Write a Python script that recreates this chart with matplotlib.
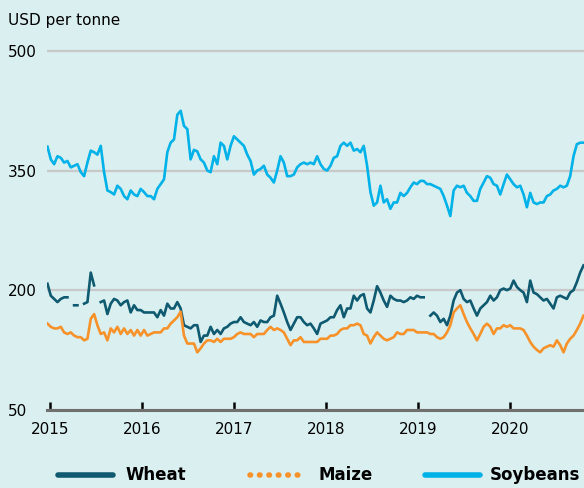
"""Wheat, maize and soybean prices, USD per tonne, 2015-2020."""
import numpy as np
import pandas as pd
import matplotlib
matplotlib.use("Agg")
import matplotlib.pyplot as plt
import matplotlib.dates as mdates
from matplotlib.lines import Line2D

nan = np.nan

# roughly fortnightly readings, USD per tonne
wheat = [
    208, 193, 189, 185, 189, 191, 191, nan, 181, 181, nan, 183, 185, 222, 206, nan, 185, 187, 170, 183, 189, 187, 181, 185, 187,
    172, 181, 175, 175, 172, 172, 172, 172, 166, 175, 168, 183, 177, 177, 185, 177, 156, 154, 152, 156, 156, 135, 143, 143, 154, 145, 150,
    145, 152, 154, 158, 160, 160, 166, 160, 158, 156, 160, 154, 162, 160, 160, 166, 168, 193, 183, 172, 160, 150, 158, 166, 166, 160, 156,
    158, 152, 145, 158, 160, 162, 166, 166, 175, 181, 166, 177, 177, 193, 187, 193, 195, 177, 172, 187, 205, 197, 187, 179, 193, 189, 187,
    187, 185, 187, 191, 189, 193, 191, 191, nan, 168, 172, 168, 160, 164, 156, 168, 187, 197, 200, 189, 185, 187, 177, 168, 177, 181, 185,
    193, 187, 191, 200, 202, 200, 202, 212, 204, 200, 197, 185, 212, 197, 195, 191, 187, 189, 183, 177, 191, 193, 191, 189, 197, 200, 210, 222, 231,
]
maize = [
    158, 154, 152, 152, 154, 147, 145, 147, 143, 141, 141, 137, 139, 164, 170, 156, 145, 147, 137, 152, 147, 154, 145, 152, 145,
    150, 143, 150, 143, 150, 143, 145, 147, 147, 147, 152, 152, 158, 162, 166, 173, 143, 133, 133, 133, 122, 127, 133, 137, 137, 135, 139,
    135, 139, 139, 139, 141, 145, 147, 145, 145, 145, 141, 145, 145, 145, 150, 154, 150, 152, 150, 147, 139, 131, 137, 137, 141, 135, 135,
    135, 135, 135, 139, 139, 139, 143, 143, 145, 150, 152, 152, 156, 156, 158, 156, 145, 143, 133, 141, 147, 143, 139, 137, 139, 141, 147,
    145, 145, 150, 150, 150, 147, 147, 147, 147, 145, 145, 141, 139, 141, 147, 156, 172, 177, 181, 170, 160, 152, 145, 137, 145, 154, 158,
    154, 145, 152, 152, 156, 154, 156, 152, 152, 152, 150, 143, 135, 129, 125, 122, 127, 129, 131, 129, 137, 131, 122, 133, 139, 143, 150, 158, 168,
]
soybeans = [
    380, 364, 358, 368, 366, 360, 362, 354, 356, 358, 348, 343, 360, 375, 373, 370, 381, 348, 325, 323, 320, 331, 327, 318, 314,
    325, 320, 318, 327, 323, 318, 318, 314, 327, 333, 339, 373, 385, 389, 420, 425, 406, 402, 364, 376, 374, 364, 360, 350, 348, 368, 358,
    385, 381, 364, 381, 393, 389, 385, 381, 370, 362, 345, 350, 352, 356, 345, 341, 335, 350, 368, 360, 343, 343, 345, 354, 358, 360, 358,
    360, 358, 368, 358, 352, 350, 356, 366, 368, 381, 385, 381, 385, 375, 377, 373, 381, 356, 323, 306, 310, 331, 310, 314, 302, 310, 310,
    322, 318, 322, 329, 335, 333, 337, 337, 333, 333, 331, 329, 327, 318, 306, 293, 325, 331, 329, 331, 322, 318, 312, 312, 327, 335, 343,
    341, 333, 331, 320, 333, 345, 339, 333, 329, 331, 320, 304, 322, 310, 308, 310, 310, 318, 320, 325, 327, 331, 329, 331, 343, 368, 383, 385, 385,
]
dates = pd.date_range("2014-12-20", "2020-10-19", periods=len(wheat))

series_names = ["Wheat", "Maize", "Soybeans"]
colors = ["#0f5a70", "#f7922a", "#00b2e8"]
y_ticks = [50, 200, 350, 500]

bg = "#d9eff0"
fig = plt.figure(figsize=(5.84, 4.88), dpi=100, facecolor=bg)
ax = fig.add_axes([0.080, 0.1604, 0.920, 0.7433], facecolor=bg)

for vals, col in zip([wheat, maize, soybeans], colors):
    ax.plot(dates, vals, color=col, lw=1.9, solid_joinstyle="round")

ax.set_ylim(50, 505)
ax.set_xlim(pd.Timestamp("2014-12-17"), pd.Timestamp("2020-10-21"))
ax.set_yticks(y_ticks)
ax.set_yticklabels([str(t) for t in y_ticks])
ax.yaxis.grid(True, color="#c9c9c9", lw=1.6)
ax.set_axisbelow(True)
ax.tick_params(axis="y", length=0, pad=28, labelsize=11)
for lab in ax.get_yticklabels():
    lab.set_horizontalalignment("left")

ax.xaxis.set_major_locator(mdates.YearLocator())
ax.xaxis.set_major_formatter(mdates.DateFormatter("%Y"))
ax.tick_params(axis="x", direction="in", length=6, width=1.8, color="black",
               pad=9, labelsize=11)

for s in ["top", "right", "left"]:
    ax.spines[s].set_visible(False)
ax.spines["bottom"].set_color("#707070")
ax.spines["bottom"].set_linewidth(2.2)

fig.text(8 / 584, 1 - 20 / 488, "USD per tonne", fontsize=11, va="center", ha="left")

# legend along the bottom
handles_x = [(58, 113), (250, 300), (425, 480)]
text_x = [125, 318, 490]
leg_y = 1 - 475 / 488
styles = ["-", (0, (0.1, 1.6)), "-"]
for (x0, x1), tx, name, col, ls in zip(handles_x, text_x, series_names, colors, styles):
    fig.add_artist(Line2D([x0 / 584, x1 / 584], [leg_y, leg_y], color=col, lw=4,
                          ls=ls, solid_capstyle="round", dash_capstyle="round",
                          transform=fig.transFigure))
    fig.text(tx / 584, leg_y, name, fontsize=12, fontweight="bold",
             va="center", ha="left")

fig.savefig("out.png", dpi=100, facecolor=bg)
